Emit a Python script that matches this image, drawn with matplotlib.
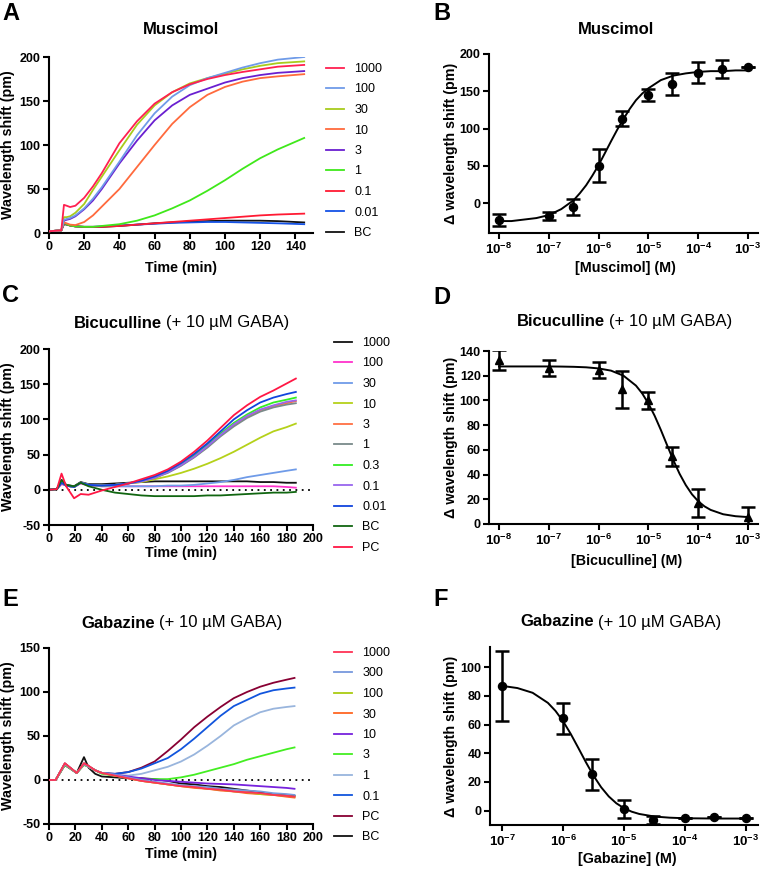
import numpy as np
import matplotlib
matplotlib.use("Agg")
import matplotlib.pyplot as plt
from matplotlib.ticker import NullLocator

plt.rcParams['font.family'] = ['Liberation Sans', 'DejaVu Sans']
plt.rcParams['mathtext.fontset'] = 'custom'
plt.rcParams['mathtext.rm'] = 'Liberation Sans'
plt.rcParams['mathtext.bf'] = 'Liberation Sans:bold'

# ---- panel A: muscimol time course ----
time_a = [0, 7, 8.5, 10, 12, 15, 20, 25, 30, 40, 50, 60, 70, 80, 90, 100, 110, 120, 130, 145]
mus_labels = ['1000', '100', '30', '10', '3', '1', '0.1', '0.01', 'BC']
mus_colors = ['#ff2050', '#6f9be8', '#a8cc1c', '#ff6a3d', '#6a1fd0', '#3fe81a', '#ff1a33', '#1452e6', '#111111']
mus_1000 = [2, 3, 32, 31, 29.5, 31, 40, 53, 68, 102, 127, 147, 160, 169, 175, 179.5, 183, 186, 189, 191]
mus_100 = [2, 3, 15, 16, 17, 20, 28, 39, 52, 81, 111, 136, 155, 168, 176, 182, 188, 193, 197, 200]
mus_30 = [2, 3, 18, 18, 19, 23, 33, 49, 64, 94, 123, 145, 160, 170, 176, 181, 186, 190, 193, 195]
mus_10 = [2, 3, 12, 11, 9.5, 9, 12.5, 20, 30, 50, 75, 100, 124, 143, 157, 166, 172, 176, 178, 180.5]
mus_3 = [2, 3, 14, 15, 16, 19, 27, 37, 50, 79, 105, 128, 145, 157, 164, 171, 176, 179.5, 182, 184]
mus_1 = [2, 3, 12, 10, 8.5, 7.5, 7, 7, 8, 10, 14, 20, 28, 37, 48, 60, 73, 85, 95, 108]
mus_01 = [2, 3, 12, 10, 8.5, 7.5, 7, 7, 7, 8, 9.5, 11, 12.5, 14, 15.5, 17, 18.5, 20, 21, 22]
mus_001 = [2, 3, 11, 10, 8.5, 7.5, 7, 7, 7.5, 8.5, 9.5, 10.5, 11.5, 12, 12.5, 12.5, 12, 11.5, 11, 10]
mus_bc = [2, 3, 10, 9.5, 8.5, 7.5, 7, 7, 7, 8, 9.5, 11, 12, 13, 13.5, 14, 14, 14, 13.5, 12]
mus_series = [mus_1000, mus_100, mus_30, mus_10, mus_3, mus_1, mus_01, mus_001, mus_bc]

# ---- panel B: muscimol dose response ----
mus_conc = [1e-8, 1e-7, 3e-7, 1e-6, 3e-6, 1e-5, 3e-5, 1e-4, 3e-4, 1e-3]
mus_resp = [-22, -17, -4.5, 50, 113.5, 145.6, 160, 175, 180, 182.5]
mus_err = [8, 5.5, 10.7, 22, 9.6, 8, 14.7, 14, 12, 0]
mus_fit_logx = [-8, -7.75, -7.5, -7.25, -7, -6.75, -6.5, -6.375, -6.25, -6.125, -6, -5.875, -5.75, -5.625,
                -5.5, -5.375, -5.25, -5.125, -5, -4.75, -4.5, -4.25, -4, -3.75, -3.5, -3.25, -3]
mus_fit_y = [-24, -24, -22, -20, -16, -8, 4, 13.4, 24, 36.9, 51, 66.9, 83, 98.6,
             113, 126.4, 138, 146.9, 154, 165, 171, 174, 176, 177, 177, 178, 178]

# ---- panel C: bicuculline time course ----
time_c = [0, 6, 9.5, 13, 19, 24, 30, 40, 50, 60, 70, 80, 90, 100, 110, 120, 130, 140, 150, 160, 170, 180, 187]
bic_labels = ['1000', '100', '30', '10', '3', '1', '0.3', '0.1', '0.01', 'BC', 'PC']
bic_colors = ['#111111', '#ff33cc', '#6f9be8', '#b5d11a', '#ff7043', '#7a8a8a', '#33ee22', '#9966ee', '#1144dd', '#116611', '#ff1744']
bic_1000 = [0, 1, 14, 7, 5, 11, 8, 8, 9, 10, 11, 12, 12, 12, 12, 12, 12, 12, 12, 11, 11, 10, 10]
bic_100 = [0, 1, 8, 6, 4, 9, 6, 5, 5, 5, 5, 5, 5, 5, 5, 5, 5, 5, 5, 5, 5, 4, 3]
bic_30 = [0, 1, 10, 6, 4, 10, 7, 5, 5, 5, 5, 5, 6, 6, 7, 9, 11, 14, 18, 21, 24, 27, 29]
bic_10 = [0, 1, 10, 6, 4, 10, 7, 6, 7, 9, 11, 15, 19, 24, 30, 37, 45, 54, 64, 74, 83, 89, 94]
bic_3 = [0, 1, 10, 6, 4, 10, 7, 6, 7, 9, 12, 17, 25, 35, 47, 61, 77, 92, 104, 113, 119, 123, 126]
bic_1 = [0, 1, 10, 6, 4, 10, 7, 6, 7, 9, 12, 17, 24, 34, 46, 60, 76, 90, 102, 111, 117, 121, 123]
bic_03 = [0, 1, 12, 6, 4, 10, 7, 6, 7, 9, 13, 18, 26, 36, 49, 64, 80, 95, 107, 117, 124, 128, 131]
bic_01 = [0, 1, 10, 6, 4, 10, 7, 6, 7, 9, 12, 17, 25, 35, 47, 62, 78, 93, 105, 114, 120, 125, 127]
bic_001 = [0, 1, 10, 6, 4, 10, 7, 6, 7, 9, 13, 19, 27, 38, 51, 66, 83, 100, 113, 124, 131, 136, 139]
bic_bc = [0, 1, 14, 7, 5, 10, 5, 0, -4, -6, -8, -9, -9, -9, -9, -8, -8, -7, -6, -5, -4, -4, -3]
bic_pc = [0, 1, 23, 5, -12, -6, -7, -1, 4, 9, 15, 21, 29, 40, 54, 70, 88, 106, 120, 132, 141, 151, 158]
bic_series = [bic_1000, bic_100, bic_30, bic_10, bic_3, bic_1, bic_03, bic_01, bic_001, bic_bc, bic_pc]

# ---- panel D: bicuculline dose response ----
bic_conc = [1e-8, 1e-7, 1e-6, 3e-6, 1e-5, 3e-5, 1e-4, 1e-3]
bic_resp = [133, 126, 124.7, 109, 100, 54.7, 17, 6]
bic_err = [8, 6.5, 6.5, 15, 7, 8, 11, 8]
bic_fit_logx = [-8, -7.75, -7.5, -7.25, -7, -6.75, -6.5, -6.25, -6, -5.75, -5.5, -5.25, -5.125, -5,
                -4.875, -4.75, -4.625, -4.5, -4.375, -4.25, -4.125, -4, -3.875, -3.75, -3.5, -3.25, -3]
bic_fit_y = [127.5, 127.5, 127.5, 127.5, 127.5, 127.4, 127.2, 126.8, 125.9, 124.1, 120.0, 112.0, 105.7, 97.5,
             87.6, 76.1, 63.8, 51.7, 40.7, 31.5, 24.0, 18.4, 14.3, 11.4, 7.9, 6.3, 5.6]

# ---- panel E: gabazine time course ----
time_e = [0, 5, 12, 21, 26.5, 30, 35, 40, 50, 60, 70, 80, 90, 100, 110, 120, 130, 140, 150, 160, 170, 180, 186]
gab_labels = ['1000', '300', '100', '30', '10', '3', '1', '0.1', 'PC', 'BC']
gab_colors = ['#ff3355', '#7799dd', '#aacc11', '#ff6622', '#7722dd', '#44ee22', '#99b5dd', '#1155dd', '#880033', '#111111']
gab_1000 = [0, 0, 19, 8, 19, 16, 11, 8, 5, 2, -1, -3, -5, -7, -8, -10, -11, -13, -14, -15, -17, -18, -19]
gab_300 = [0, 0, 18, 8, 18, 15, 11, 8, 6, 3, 0, -2, -4, -6, -7, -8, -10, -11, -12, -13, -15, -16, -17]
gab_100 = [0, 0, 18, 8, 18, 15, 11, 8, 5, 2, -1, -3, -5, -7, -8, -10, -11, -13, -14, -16, -17, -18, -19]
gab_30 = [0, 0, 18, 8, 18, 15, 11, 8, 5, 2, -1, -3, -5, -7, -9, -10, -12, -13, -15, -16, -17, -19, -20]
gab_10 = [0, 0, 18, 8, 18, 15, 11, 8, 6, 4, 2, 0, -1, -2, -3, -4, -4.5, -5, -6, -7, -8, -9, -10]
gab_3 = [0, 0, 17, 8, 17, 15, 11, 7, 5, 3, 1, 1, 1, 3, 6, 10, 14, 18, 23, 27, 31, 35, 37]
gab_1 = [0, 0, 18, 8, 18, 15, 11, 8, 6, 5, 7, 11, 15, 21, 29, 39, 50, 62, 70, 77, 81, 83, 84]
gab_01 = [0, 0, 18, 8, 18, 15, 11, 8, 7, 9, 13, 19, 25, 35, 47, 60, 73, 84, 91, 98, 102, 104, 105]
gab_pc = [0, 0, 19, 8, 19, 16, 11, 8, 7, 9, 14, 21, 33, 46, 60, 72, 83, 93, 100, 106, 110.5, 114, 116]
gab_bc = [0, 0, 17, 8, 26, 14, 7, 4, 3, 2, 2, 1, -1, -4, -5, -7, -8, -10, -12, -14, -16, -17, -18]
gab_series = [gab_1000, gab_300, gab_100, gab_30, gab_10, gab_3, gab_1, gab_01, gab_pc, gab_bc]

# ---- panel F: gabazine dose response ----
gab_conc = [1e-7, 1e-6, 3e-6, 1e-5, 3e-5, 1e-4, 3e-4, 1e-3]
gab_resp = [86.9, 64.3, 25.2, 1.2, -6.5, -5.4, -4.2, -5.4]
gab_err = [24.5, 10.7, 10.7, 6.4, 2.5, 0, 0, 0]
gab_fit_logx = [-7, -6.75, -6.5, -6.25, -6.125, -6, -5.875, -5.75, -5.625, -5.5, -5.375, -5.25,
                -5.125, -5, -4.875, -4.75, -4.5, -4.25, -4, -3.75, -3.5, -3.25, -3]
gab_fit_y = [86.9, 85.4, 82.1, 75.1, 69.5, 62.3, 53.5, 43.7, 33.7, 24.3, 16.3, 9.9,
             5.1, 1.7, -0.7, -2.3, -4.1, -4.9, -5.3, -5.4, -5.5, -5.5, -5.5]

W, H = 761, 869
fig = plt.figure(figsize=(W / 100, H / 100), dpi=100)


def box(x0, y0, x1, y1):
    return [x0 / W, 1 - y1 / H, (x1 - x0) / W, (y1 - y0) / H]


def ftxt(x, y, s, **kw):
    fig.text(x / W, 1 - y / H, s, **kw)


def style(ax):
    for side in ['top', 'right']:
        ax.spines[side].set_visible(False)
    for side in ['left', 'bottom']:
        ax.spines[side].set_linewidth(1.5)
    ax.tick_params(direction='out', length=4.5, width=1.5, labelsize=9, pad=1.5)


def ticks(ax, xt, yt):
    ax.set_xticks(xt, [str(v) for v in xt], fontweight='bold')
    ax.set_yticks(yt, [str(v) for v in yt], fontweight='bold')


def logticks(ax, exps):
    ax.set_xscale('log')
    ax.set_xticks([10.0 ** e for e in exps],
                  [r'$\mathbf{10^{%d}}$' % e for e in exps])
    ax.xaxis.set_minor_locator(NullLocator())
    ax.tick_params(axis='x', labelsize=9.5)


def two_title(xsplit, y, bold, rest):
    ftxt(xsplit, y, bold, ha='right', va='center', fontsize=12, fontweight='bold')
    ftxt(xsplit + 4, y, rest, ha='left', va='center', fontsize=12)


def legend(ax, lines, labels, x, y):
    ax.legend(lines, labels, loc='upper left', bbox_to_anchor=(x / W, 1 - y / H),
              bbox_transform=fig.transFigure, frameon=False, fontsize=9,
              handlelength=1.45, handletextpad=0.8, labelspacing=0.68,
              borderpad=0, borderaxespad=0)


# A
axA = fig.add_axes(box(49, 57, 313, 233))
lines = []
for s, c in zip(mus_series, mus_colors):
    lines.append(axA.plot(time_a, s, color=c, lw=1.3)[0])
for ln, z in zip(lines, range(len(lines), 0, -1)):
    ln.set_zorder(z)
axA.set_xlim(0, 150)
axA.set_ylim(0, 200)
style(axA)
ticks(axA, [0, 20, 40, 60, 80, 100, 120, 140], [0, 50, 100, 150, 200])
legend(axA, lines, mus_labels, 326, 63)

# B
axB = fig.add_axes(box(489, 54, 758, 233))
axB.plot(10.0 ** np.array(mus_fit_logx), mus_fit_y, color='black', lw=1.4)
axB.errorbar(mus_conc, mus_resp, yerr=mus_err, fmt='o', color='black', ms=5.8,
             capsize=5, elinewidth=1.8, capthick=1.8)
style(axB)
logticks(axB, [-8, -7, -6, -5, -4, -3])
axB.set_xlim(10 ** -8.2, 10 ** -2.8)
axB.set_ylim(-40, 200)
axB.set_yticks([0, 50, 100, 150, 200], ['0', '50', '100', '150', '200'], fontweight='bold')

# C
axC = fig.add_axes(box(49, 349, 313, 525))
lines = []
for s, c in zip(bic_series, bic_colors):
    lines.append(axC.plot(time_c, s, color=c, lw=1.3)[0])
axC.axhline(0, color='black', lw=1.3, ls=(0, (1, 2.5)), zorder=0)
axC.set_xlim(0, 200)
axC.set_ylim(-50, 200)
style(axC)
ticks(axC, list(range(0, 201, 20)), [-50, 0, 50, 100, 150, 200])
legend(axC, lines, bic_labels, 334, 337)

# D
axD = fig.add_axes(box(489, 351, 758, 524))
axD.plot(10.0 ** np.array(bic_fit_logx), bic_fit_y, color='black', lw=1.4)
axD.errorbar(bic_conc, bic_resp, yerr=bic_err, fmt='^', color='black', ms=5.8,
             capsize=5, elinewidth=1.8, capthick=1.8)
style(axD)
logticks(axD, [-8, -7, -6, -5, -4, -3])
axD.set_xlim(10 ** -8.2, 10 ** -2.8)
axD.set_ylim(0, 140)
axD.set_yticks(list(range(0, 141, 20)), [str(v) for v in range(0, 141, 20)], fontweight='bold')

# E
axE = fig.add_axes(box(49, 648, 313, 824))
lines = []
for s, c in zip(gab_series, gab_colors):
    lines.append(axE.plot(time_e, s, color=c, lw=1.3)[0])
for ln, z in zip(lines, range(len(lines), 0, -1)):
    ln.set_zorder(z)
axE.axhline(0, color='black', lw=1.3, ls=(0, (1, 2.5)), zorder=0)
axE.set_xlim(0, 200)
axE.set_ylim(-50, 150)
style(axE)
ticks(axE, list(range(0, 201, 20)), [-50, 0, 50, 100, 150])
legend(axE, lines, gab_labels, 334, 647)

# F
axF = fig.add_axes(box(490, 647, 758, 825))
axF.plot(10.0 ** np.array(gab_fit_logx), gab_fit_y, color='black', lw=1.4)
axF.errorbar(gab_conc, gab_resp, yerr=gab_err, fmt='o', color='black', ms=5.8,
             capsize=5, elinewidth=1.8, capthick=1.8)
style(axF)
logticks(axF, [-7, -6, -5, -4, -3])
axF.set_xlim(10 ** -7.2, 10 ** -2.8)
axF.set_ylim(-10, 114)
axF.set_yticks([0, 20, 40, 60, 80, 100], ['0', '20', '40', '60', '80', '100'], fontweight='bold')

# panel letters
for x, y, s in [(2, 14, 'A'), (433, 13, 'B'), (2, 296, 'C'), (433, 298, 'D'), (2, 599, 'E'), (433, 600, 'F')]:
    ftxt(x, y, s, ha='left', va='center', fontsize=17, fontweight='bold')

# titles
ftxt(181, 30, 'Muscimol', ha='center', va='center', fontsize=12, fontweight='bold')
ftxt(616, 29, 'Muscimol', ha='center', va='center', fontsize=12, fontweight='bold')
two_title(162, 323, 'Bicuculline', '(+ 10 µM GABA)')
two_title(605, 321, 'Bicuculline', '(+ 10 µM GABA)')
two_title(155, 623, 'Gabazine', '(+ 10 µM GABA)')
two_title(594, 622, 'Gabazine', '(+ 10 µM GABA)')

# axis labels
lab = dict(ha='center', va='center', fontsize=10.3, fontweight='bold')
ftxt(181, 268, 'Time (min)', **lab)
ftxt(181, 553, 'Time (min)', **lab)
ftxt(181, 854, 'Time (min)', **lab)
ftxt(8, 145, 'Wavelength shift (pm)', rotation=90, **lab)
ftxt(8, 437, 'Wavelength shift (pm)', rotation=90, **lab)
ftxt(8, 736, 'Wavelength shift (pm)', rotation=90, **lab)
ftxt(625, 268, '[Muscimol] (M)', **lab)
ftxt(627, 561, '[Bicuculline] (M)', **lab)
ftxt(627, 859, '[Gabazine] (M)', **lab)
ftxt(451, 143, 'Δ wavelength shift (pm)', rotation=90, **lab)
ftxt(451, 437, 'Δ wavelength shift (pm)', rotation=90, **lab)
ftxt(451, 736, 'Δ wavelength shift (pm)', rotation=90, **lab)

fig.savefig('out.png', dpi=100)
